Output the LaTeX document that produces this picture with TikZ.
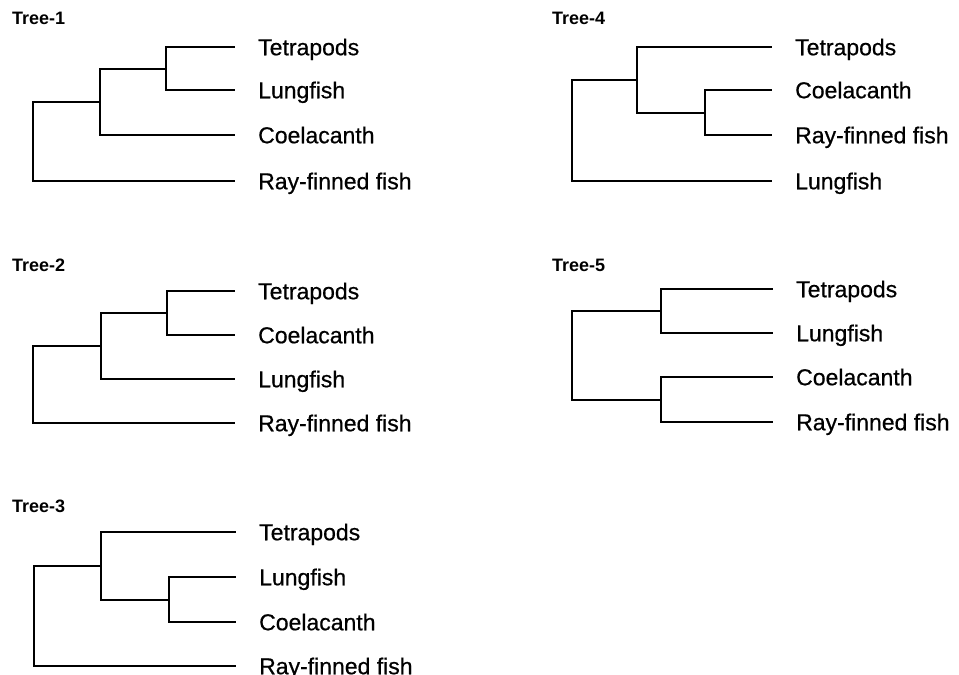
\documentclass[tikz,border=0pt]{standalone}
\usepackage{fontspec}
\setmainfont{Liberation Sans}
\newfontfamily\taxonfont{Liberation Sans}[FakeBold=0.6]
\begin{document}
\begin{tikzpicture}[x=1pt,y=-1pt,
  branch/.style={line width=1.4pt,line cap=rect},
  taxon/.style={anchor=west,inner sep=0pt,text height=16.5pt,text depth=0pt,
    font=\taxonfont\fontsize{23}{27}\selectfont},
  treetitle/.style={anchor=west,inner sep=0pt,text height=12.9pt,text depth=0pt,
    font=\fontsize{18}{22}\selectfont\bfseries}]
\useasboundingbox (0,0) rectangle (959,675);
% ---------- Tree-1 ----------
\node[treetitle] (h1) at (12,18) {Tree-1};
\node[taxon] (a1) at (258,47) {Tetrapods};
\node[taxon] (b1) at (258,90) {Lungfish};
\node[taxon] (c1) at (258,135) {Coelacanth};
\node[taxon] (d1) at (258,181) {Ray-finned fish};
\foreach \n in {a1,b1,c1,d1} \coordinate (t\n) at ([xshift=-24pt]\n.west);
\coordinate (i1) at (166,69);
\coordinate (j1) at (100,102);
\coordinate (r1) at (33,142);
\draw[branch] (ta1) -| (i1) |- (tb1);
\draw[branch] (i1) -| (j1) |- (tc1);
\draw[branch] (j1) -| (r1) |- (td1);
% ---------- Tree-2 ----------
\node[treetitle] (h2) at (12,265) {Tree-2};
\node[taxon] (a2) at (258,291) {Tetrapods};
\node[taxon] (b2) at (258,335) {Coelacanth};
\node[taxon] (c2) at (258,379) {Lungfish};
\node[taxon] (d2) at (258,423) {Ray-finned fish};
\foreach \n in {a2,b2,c2,d2} \coordinate (t\n) at ([xshift=-24pt]\n.west);
\coordinate (i2) at (167,313);
\coordinate (j2) at (101,346);
\coordinate (r2) at (33,385);
\draw[branch] (ta2) -| (i2) |- (tb2);
\draw[branch] (i2) -| (j2) |- (tc2);
\draw[branch] (j2) -| (r2) |- (td2);
% ---------- Tree-3 ----------
\node[treetitle] (h3) at (12,506) {Tree-3};
\node[taxon] (a3) at (259,532) {Tetrapods};
\node[taxon] (b3) at (259,577) {Lungfish};
\node[taxon] (c3) at (259,622) {Coelacanth};
\node[taxon] (d3) at (259,666) {Ray-finned fish};
\foreach \n in {a3,b3,c3,d3} \coordinate (t\n) at ([xshift=-24pt]\n.west);
\coordinate (i3) at (169,600);
\coordinate (j3) at (101,566);
\coordinate (r3) at (34,616);
\draw[branch] (tb3) -| (i3) |- (tc3);
\draw[branch] (ta3) -| (j3) |- (i3);
\draw[branch] (j3) -| (r3) |- (td3);
% ---------- Tree-4 ----------
\node[treetitle] (h4) at (552,18) {Tree-4};
\node[taxon] (a4) at (795,47) {Tetrapods};
\node[taxon] (b4) at (795,90) {Coelacanth};
\node[taxon] (c4) at (795,135) {Ray-finned fish};
\node[taxon] (d4) at (795,181) {Lungfish};
\foreach \n in {a4,b4,c4,d4} \coordinate (t\n) at ([xshift=-24pt]\n.west);
\coordinate (i4) at (705,113);
\coordinate (j4) at (637,80);
\coordinate (r4) at (572,130);
\draw[branch] (tb4) -| (i4) |- (tc4);
\draw[branch] (ta4) -| (j4) |- (i4);
\draw[branch] (j4) -| (r4) |- (td4);
% ---------- Tree-5 ----------
\node[treetitle] (h5) at (552,265) {Tree-5};
\node[taxon] (a5) at (796,289) {Tetrapods};
\node[taxon] (b5) at (796,333) {Lungfish};
\node[taxon] (c5) at (796,377) {Coelacanth};
\node[taxon] (d5) at (796,422) {Ray-finned fish};
\foreach \n in {a5,b5,c5,d5} \coordinate (t\n) at ([xshift=-24pt]\n.west);
\coordinate (i5) at (661,311);
\coordinate (j5) at (661,400);
\coordinate (r5) at (572,355);
\draw[branch] (ta5) -| (i5) |- (tb5);
\draw[branch] (tc5) -| (j5) |- (td5);
\draw[branch] (i5) -| (r5) |- (j5);
\end{tikzpicture}
\end{document}
